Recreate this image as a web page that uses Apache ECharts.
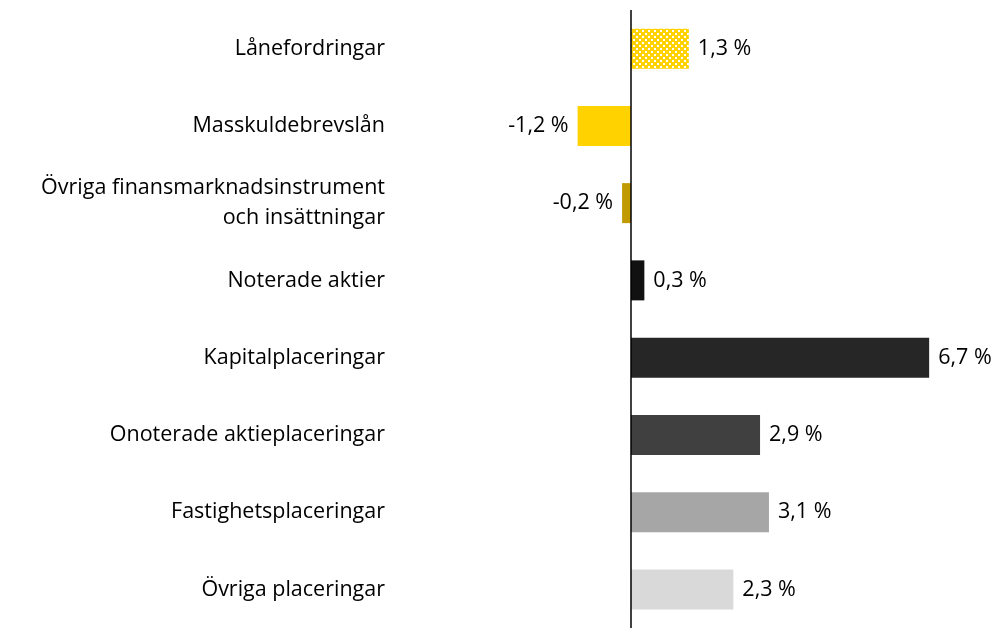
<!DOCTYPE html>
<html><head><meta charset="utf-8">
<script src="https://cdn.jsdelivr.net/npm/echarts@6/dist/echarts.min.js"></script>
<style>html,body{margin:0;padding:0;background:#fff}#c{width:997px;height:628px}</style>
</head><body><div id="c"></div>
<script>
const categories = ["Lånefordringar","Masskuldebrevslån","Övriga finansmarknadsinstrument\noch insättningar","Noterade aktier","Kapitalplaceringar","Onoterade aktieplaceringar","Fastighetsplaceringar","Övriga placeringar"];
const values = [1.3, -1.2, -0.2, 0.3, 6.7, 2.9, 3.1, 2.3];
const barColors = ["pattern","#FFD200","#C09A00","#111111","#262626","#404040","#A6A6A6","#D9D9D9"];

function checker(){
  const c = document.createElement('canvas'); c.width = 6; c.height = 6;
  const g = c.getContext('2d');
  g.fillStyle = '#FFD200'; g.fillRect(0,0,6,6);
  g.fillStyle = '#FFFFFF'; g.fillRect(0,0,2,2); g.fillRect(3,3,2,2);
  return {image: c, repeat: 'repeat'};
}
const font = '"Open Sans", sans-serif';
const chart = echarts.init(document.getElementById('c'));
chart.setOption({
  animation:false,
  grid:{left:542, right:10, top:10, bottom:-6},
  xAxis:{type:'value', min:-2, max:8, show:false},
  yAxis:{type:'category', inverse:true, data:categories,
    axisLine:{show:false}, axisTick:{show:false}, splitLine:{show:false},
    axisLabel:{margin:157, fontFamily:font, fontSize:21.5, color:'#000', align:'right', lineHeight:30}},
  series:[{type:'bar', barWidth:40,
    data: values.map((v,i)=>({value:v,
      itemStyle:{color: barColors[i]==='pattern' ? checker() : barColors[i]},
      label:{position: v<0 ? 'left':'right'}})),
    label:{show:true, fontFamily:font, fontSize:21.5, color:'#000', distance:9,
      formatter:p=>String(p.value).replace('.', ',') + ' %'},
    markLine:{silent:true, symbol:'none', label:{show:false},
      lineStyle:{color:'#000', width:1.5, type:'solid'},
      data:[{xAxis:0}]}
  }]
});
</script></body></html>
